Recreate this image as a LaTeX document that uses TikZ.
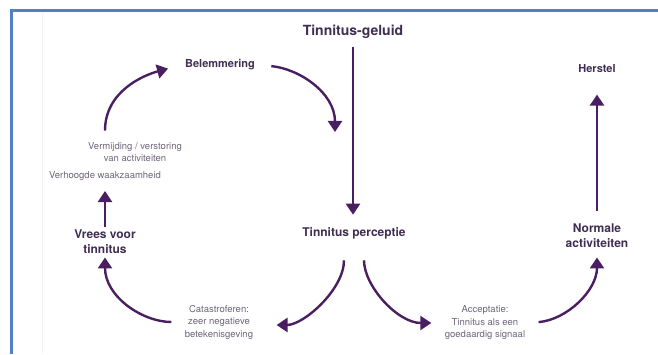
\documentclass[tikz,border=0pt]{standalone}
\usepackage{fontspec}
\setmainfont{TeX Gyre Heros}
\usetikzlibrary{arrows.meta,positioning}
\definecolor{ink}{HTML}{3F2D52}
\definecolor{muted}{HTML}{6F6479}
\definecolor{plum}{HTML}{4A1F61}
\definecolor{frame}{HTML}{5080C6}
\definecolor{rule}{HTML}{F3F2F9}

\begin{document}
\begin{tikzpicture}[x=1pt,y=1pt,>={Triangle[width=14pt,length=11pt]},
  flow/.style={->,draw=plum,line width=2.4pt},
  key/.style={text=ink,font=\bfseries\fontsize{12}{15}\selectfont,align=center},
  note/.style={text=muted,font=\fontsize{9.5}{12.5}\selectfont,align=center}]
  \useasboundingbox (0,0) rectangle (658,354);
  \draw[rule,line width=1pt] (42,0) -- (42,341);
  \draw[frame,line width=3pt] (11,0) -- (11,343) -- (658,343);
  % main labels
  \node[key,font=\bfseries\fontsize{14}{16}\selectfont] (geluid) at (353,322) {Tinnitus-geluid};
  \node[key] (percep) at (354,121) {Tinnitus perceptie};
  \node[key,font=\bfseries\fontsize{11}{13}\selectfont] (belem) at (220,289) {Belemmering};
  \node[key,font=\bfseries\fontsize{11}{13}\selectfont] (herstel) at (597,285) {Herstel};
  \node[key] (vrees) at (105,112) {Vrees voor\\tinnitus};
  \node[key] (normaal) at (597,118) {Normale\\activiteiten};
  % small notes
  \node[note] (waak) at (105,178) {Verhoogde waakzaamheid};
  \node[note] (vermijd) at (135,202) {Vermijding / verstoring\\van activiteiten};
  \node[note] (catas) at (219,32) {Catastroferen:\\zeer negatieve\\betekenisgeving};
  \node[note] (accept) at (485,31) {Acceptatie:\\Tinnitus als een\\goedaardig signaal};
  \coordinate (merge) at (335,222);
  % arrows
  \draw[flow,shorten <=5pt,shorten >=9pt] (geluid) -- (geluid |- percep.north);
  \draw[flow,shorten >=14pt] ([xshift=-30pt,yshift=8pt]vermijd.north) to[out=90,in=195] (belem.west);
  \draw[flow,shorten <=13pt] (belem.east) to[out=-5,in=90] (merge);
  \draw[flow,shorten <=18pt,shorten >=20pt] ([xshift=-10pt]percep.south) to[out=-90,in=0] ([yshift=-3pt]catas.east);
  \draw[flow,shorten <=10pt] (catas.west) to[out=180,in=-90] (vrees.south);
  \draw[flow,shorten >=7pt] (vrees) -- (waak);
  \draw[flow,shorten <=18pt,shorten >=10pt] ([xshift=10pt]percep.south) to[out=-90,in=180] (accept.west);
  \draw[flow,shorten <=10pt,shorten >=6pt] (accept.east) to[out=5,in=-90] (normaal.south);
  \draw[flow,shorten <=10pt,shorten >=18pt] (normaal) -- (herstel);
\end{tikzpicture}
\end{document}
